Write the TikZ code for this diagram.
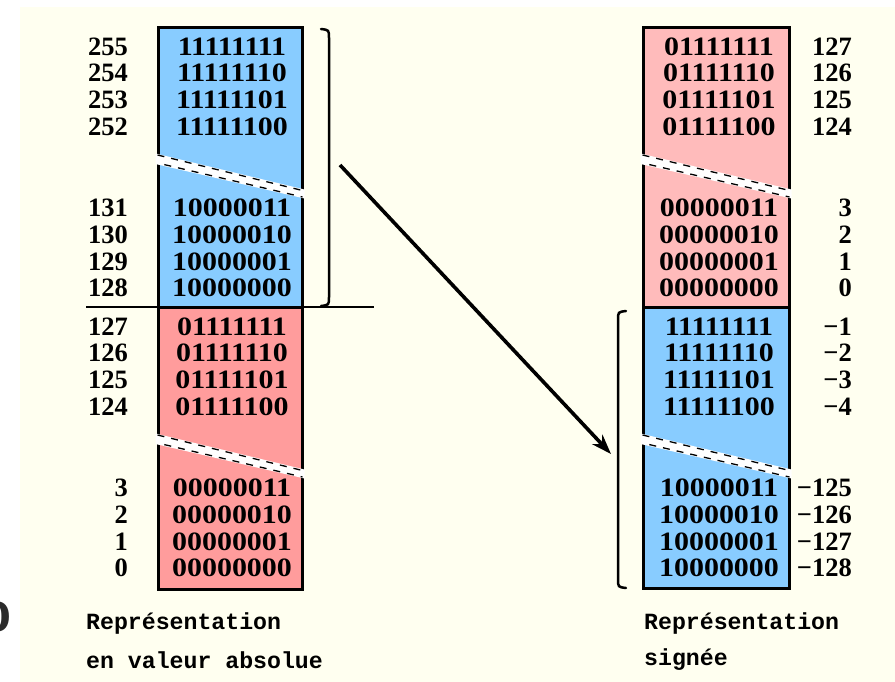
\documentclass[tikz,border=0pt]{standalone}
\usepackage{fontspec}
\setmainfont{Liberation Serif}
\newfontfamily\capfont{Liberation Mono}
\newfontfamily\edgefont{DejaVu Sans}
\usetikzlibrary{arrows.meta}
\definecolor{cream}{HTML}{FFFFF0}
\definecolor{bitblue}{HTML}{88CCFF}
\definecolor{bitred}{HTML}{FF9C9C}
\definecolor{bitpink}{HTML}{FFBBBB}
\definecolor{edgegrey}{HTML}{2B2B2B}
\newcommand{\widebits}[1]{\scalebox{1.13}[1]{#1}}
\tikzset{
  cell/.style={draw=black, line width=3pt, inner sep=0pt},
  bits/.style={font=\fontsize{26.5}{26.5}\selectfont\bfseries, inner sep=0pt, anchor=center},
  lnum/.style={font=\fontsize{26.5}{26.5}\selectfont\bfseries, inner sep=0pt, anchor=east},
  captext/.style={font=\capfont\fontsize{23.2}{23.2}\selectfont\bfseries, inner sep=0pt, anchor=west},
  bracket/.style={line width=2.5pt, line cap=round},
  gapedge/.style={line width=1.3pt, dash pattern=on 7pt off 7pt},
}
\begin{document}
\begin{tikzpicture}[x=1pt,y=-1pt]
\useasboundingbox (0,0) rectangle (895,682);
\fill[cream] (20,7) rectangle (895,682);
\node[font=\edgefont\fontsize{40}{40}\selectfont\bfseries, text=edgegrey, anchor=east, inner sep=0pt] (edgezero) at (12,617) {0};

% ---------------- left column ----------------
\path[cell, fill=bitblue] (158,28) rectangle (302,307);
\path[cell, fill=bitred] (158,307) rectangle (302,589);

% ---------------- right column ----------------
\path[cell, fill=bitpink] (643,28) rectangle (789,307);
\path[cell, fill=bitblue] (643,307) rectangle (789,588);

% ---------------- break bands ----------------
\foreach \xa/\xb/\dy in {155.5/304.5/0, 155.5/304.5/280, 640.5/791.5/0, 640.5/791.5/280}{
  \fill[white] (\xa,153.5+\dy) -- (\xb,189.5+\dy) -- (\xb,198.5+\dy) -- (\xa,164+\dy) -- cycle;
  \draw[gapedge] (\xa+2,155+\dy) -- (\xb-2,190.5+\dy);
  \draw[gapedge, dash phase=7pt] (\xa+2,163+\dy) -- (\xb-2,197+\dy);
}

% ---------------- left column texts ----------------
\foreach \b/\n/\y [count=\i] in {11111111/255/47, 11111110/254/73, 11111101/253/100, 11111100/252/127,
  10000011/131/208, 10000010/130/235, 10000001/129/262, 10000000/128/288,
  01111111/127/327, 01111110/126/353, 01111101/125/380, 01111100/124/407,
  00000011/3/488, 00000010/2/515, 00000001/1/542, 00000000/0/568}{
  \node[bits] (lb\i) at (232,\y) {\widebits{\b}};
  \node[lnum] (ln\i) at (128,\y) {\n};
}

% ---------------- right column texts ----------------
\foreach \b/\n/\y [count=\i] in {01111111/127/47, 01111110/126/73, 01111101/125/100, 01111100/124/127,
  00000011/3/208, 00000010/2/235, 00000001/1/262, 00000000/0/288,
  11111111/−1/327, 11111110/−2/353, 11111101/−3/380, 11111100/−4/407,
  10000011/−125/488, 10000010/−126/515, 10000001/−127/542, 10000000/−128/568}{
  \node[bits] (rb\i) at (719,\y) {\widebits{\b}};
  \node[lnum] (rn\i) at (852,\y) {\n};
}

% ---------------- divider and brackets ----------------
\coordinate (divL) at (86,307);
\coordinate (divR) at (374,307);
\draw[line width=2pt] (divL) -- (divR);

\coordinate (lbrTop) at (321,29);
\coordinate (lbrBot) at (321,306);
\draw[bracket] (lbrTop) .. controls (329,30) .. (329,38) -- (329,297) .. controls (329,305) .. (lbrBot);

\coordinate (rbrTop) at (626,311);
\coordinate (rbrBot) at (626,588);
\draw[bracket] (rbrTop) .. controls (618,312) .. (618,320) -- (618,579) .. controls (618,587) .. (rbrBot);

% ---------------- arrow ----------------
\coordinate (arrS) at (340,165);
\coordinate (arrE) at (611,454);
\draw[line width=3.6pt, -{Stealth[length=20pt, width=14pt]}] (arrS) -- (arrE);

% ---------------- captions ----------------
\node[captext] (capL1) at (86,623) {Représentation};
\node[captext] (capL2) at (86,660) {en valeur absolue};
\node[captext] (capR1) at (644,623) {Représentation};
\node[captext] (capR2) at (644,660) {signée};
\end{tikzpicture}
\end{document}
